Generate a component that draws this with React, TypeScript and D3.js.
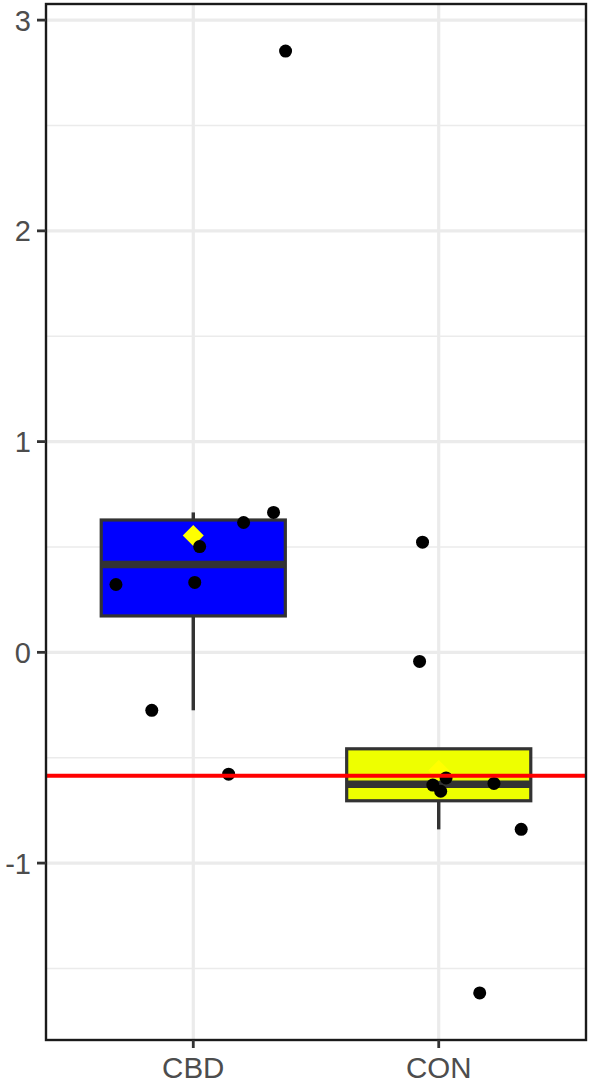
import React from 'react';
import * as d3 from 'd3';

// groups and their fill colours
const groups = ['CBD', 'CON'];
const groupFill = ['#0000FF', '#EEFF00'];

// observed values per group, with horizontal jitter (in category units)
const cbdValues = [2.853, 0.664, 0.616, 0.502, 0.322, 0.332, -0.275, -0.578];
const cbdJitter = [0.376, 0.327, 0.205, 0.026, -0.315, 0.006, -0.169, 0.144];
const conValues = [0.523, -0.043, -0.63, -0.659, -0.596, -0.622, -0.84, -1.616];
const conJitter = [-0.066, -0.078, -0.024, 0.008, 0.03, 0.225, 0.336, 0.167];

const yTicks = [-1, 0, 1, 2, 3];
const yMinor = [-1.5, -0.5, 0.5, 1.5, 2.5];
const refLine = -0.586;

const width = 591;
const height = 1083;
const panel = { left: 46, right: 586, top: 4, bottom: 1040 };

function boxStats(values: number[]) {
  const s = [...values].sort(d3.ascending);
  const q1 = d3.quantile(s, 0.25)!;
  const med = d3.quantile(s, 0.5)!;
  const q3 = d3.quantile(s, 0.75)!;
  const iqr = q3 - q1;
  const lo = d3.min(s.filter(v => v >= q1 - 1.5 * iqr))!;
  const hi = d3.max(s.filter(v => v <= q3 + 1.5 * iqr))!;
  return { q1, med, q3, lo, hi, mean: d3.mean(s)! };
}

export default function App() {
  const x = d3.scalePoint<string>().domain(groups).range([panel.left, panel.right]).padding(0.6);
  const step = x.step();
  const yExt = d3.extent([...cbdValues, ...conValues]) as [number, number];
  const pad = (yExt[1] - yExt[0]) * 0.05;
  const y = d3.scaleLinear().domain([yExt[0] - pad, yExt[1] + pad]).range([panel.bottom, panel.top]);

  const series = [
    { name: 'CBD', values: cbdValues, jitter: cbdJitter, fill: groupFill[0] },
    { name: 'CON', values: conValues, jitter: conJitter, fill: groupFill[1] },
  ];
  const boxW = step * 0.75;
  const font = '"Liberation Sans", Arial, sans-serif';

  return (
    <svg width={width} height={height} style={{ position: 'absolute', left: 0, top: 0 }}>
      <rect x={0} y={0} width={width} height={height} fill="white" />
      <defs>
        <clipPath id="panel">
          <rect x={panel.left} y={panel.top} width={panel.right - panel.left} height={panel.bottom - panel.top} />
        </clipPath>
      </defs>
      <g clipPath="url(#panel)">
        {yMinor.map(t => (
          <line key={'m' + t} x1={panel.left} x2={panel.right} y1={y(t)} y2={y(t)} stroke="#EBEBEB" strokeWidth={1.6} />
        ))}
        {yTicks.map(t => (
          <line key={'g' + t} x1={panel.left} x2={panel.right} y1={y(t)} y2={y(t)} stroke="#EBEBEB" strokeWidth={3.2} />
        ))}
        {groups.map(g => (
          <line key={'v' + g} x1={x(g)} x2={x(g)} y1={panel.top} y2={panel.bottom} stroke="#EBEBEB" strokeWidth={3.2} />
        ))}

        {series.map(s => {
          const st = boxStats(s.values);
          const cx = x(s.name)!;
          return (
            <g key={'b' + s.name}>
              <line x1={cx} x2={cx} y1={y(st.hi)} y2={y(st.q3)} stroke="#333333" strokeWidth={3.4} />
              <line x1={cx} x2={cx} y1={y(st.q1)} y2={y(st.lo)} stroke="#333333" strokeWidth={3.4} />
              <rect x={cx - boxW / 2} y={y(st.q3)} width={boxW} height={y(st.q1) - y(st.q3)}
                fill={s.fill} stroke="#333333" strokeWidth={3.2} />
              <line x1={cx - boxW / 2} x2={cx + boxW / 2} y1={y(st.med)} y2={y(st.med)} stroke="#333333" strokeWidth={7.5} />
            </g>
          );
        })}

        {series.map(s => {
          const st = boxStats(s.values);
          const cx = x(s.name)!;
          const cy = y(st.mean);
          const r = 10.5;
          return (
            <path key={'d' + s.name} d={`M${cx},${cy - r}L${cx + r},${cy}L${cx},${cy + r}L${cx - r},${cy}Z`} fill="#FFFF00" />
          );
        })}

        {series.map(s => s.values.map((v, i) => (
          <circle key={s.name + i} cx={x(s.name)! + s.jitter[i] * step} cy={y(v)} r={6.5} fill="black" />
        )))}

        <line x1={panel.left} x2={panel.right} y1={y(refLine)} y2={y(refLine)} stroke="#FF0000" strokeWidth={4} />
      </g>

      <rect x={panel.left} y={panel.top} width={panel.right - panel.left} height={panel.bottom - panel.top}
        fill="none" stroke="#1A1A1A" strokeWidth={2.4} />

      {yTicks.map(t => (
        <g key={'yt' + t}>
          <line x1={panel.left - 9} x2={panel.left} y1={y(t)} y2={y(t)} stroke="#333333" strokeWidth={2.8} />
          <text x={31} y={y(t)} dy="0.36em" textAnchor="end" fontFamily={font} fontSize={29} fill="#4D4D4D">{t}</text>
        </g>
      ))}
      {groups.map(g => (
        <g key={'xt' + g}>
          <line x1={x(g)} x2={x(g)} y1={panel.bottom} y2={panel.bottom + 8} stroke="#333333" strokeWidth={2.8} />
          <text x={x(g)} y={1078} textAnchor="middle" fontFamily={font} fontSize={29.5} fill="#4D4D4D">{g}</text>
        </g>
      ))}
    </svg>
  );
}
